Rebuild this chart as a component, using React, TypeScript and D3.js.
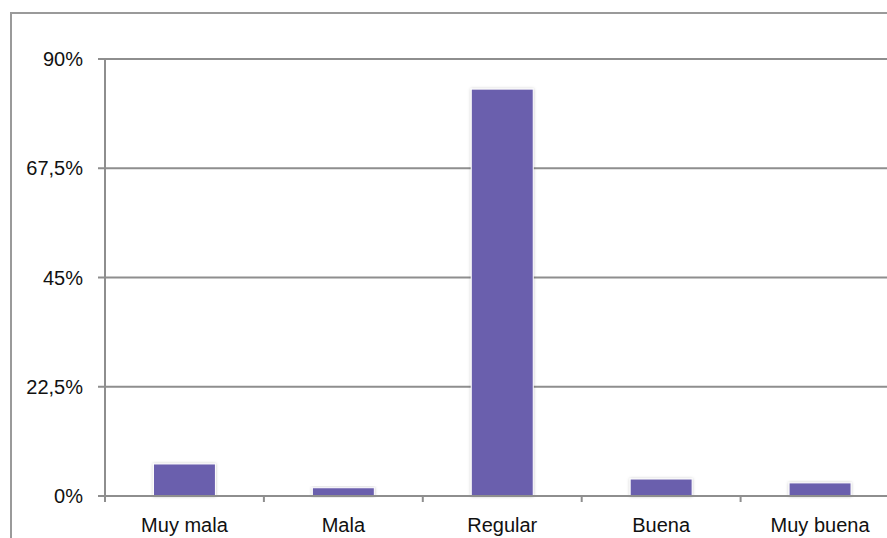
import React from "react";
import * as d3 from "d3";

const categories = ["Muy mala", "Mala", "Regular", "Buena", "Muy buena"];
const values = [6.6, 1.7, 83.8, 3.5, 2.7];
const yTicks = [0, 22.5, 45, 67.5, 90];
const yTickLabels = ["0%", "22,5%", "45%", "67,5%", "90%"];

export default function App() {
  const W = 887, H = 538;
  const left = 105, right = 899.5, top = 59, bottom = 496;
  const x = d3.scaleBand<string>().domain(categories).range([left, right]).padding(0);
  const y = d3.scaleLinear().domain([0, 90]).range([bottom, top]);
  const bw = x.bandwidth() * 0.39;
  const boundaries = d3.range(categories.length + 1).map((i) => left + i * x.step());
  const font = "'Liberation Sans', Helvetica, Arial, sans-serif";
  return (
    <svg width={W} height={H} style={{ position: "absolute", left: 0, top: 0 }}>
      <defs>
        <filter id="sh" x="-20%" y="-20%" width="140%" height="140%">
          <feDropShadow dx="0" dy="0" stdDeviation="1.6" floodColor="#000" floodOpacity="0.25" />
        </filter>
      </defs>
      <rect x={0} y={0} width={W} height={H} fill="#fff" />
      <rect x={11} y={13} width={1000} height={1000} fill="none" stroke="#9a9a9a" strokeWidth={2} />
      {yTicks.map((t, i) => (
        <g key={t}>
          {t > 0 && (
            <line x1={left} x2={W} y1={y(t)} y2={y(t)} stroke="#8e8e8e" strokeWidth={2} />
          )}
          <line x1={98} x2={left} y1={y(t)} y2={y(t)} stroke="#8e8e8e" strokeWidth={2} />
          <text x={83} y={y(t) + 7} textAnchor="end" fontFamily={font} fontSize={20} fill="#111">
            {yTickLabels[i]}
          </text>
        </g>
      ))}
      {categories.map((c, i) => (
        <rect
          key={c}
          x={(x(c) as number) + (x.bandwidth() - bw) / 2}
          y={y(values[i])}
          width={bw}
          height={bottom - y(values[i])}
          fill="#6b5fad"
          stroke="#ffffff"
          strokeWidth={1}
          filter="url(#sh)"
        />
      ))}
      <line x1={left} x2={left} y1={top} y2={bottom + 5} stroke="#8e8e8e" strokeWidth={2} />
      <line x1={left} x2={W} y1={bottom} y2={bottom} stroke="#8e8e8e" strokeWidth={2} />
      {boundaries.map((b, i) => (
        <line key={i} x1={b} x2={b} y1={bottom} y2={bottom + 6} stroke="#8e8e8e" strokeWidth={2} />
      ))}
      {categories.map((c) => (
        <text
          key={c}
          x={(x(c) as number) + x.bandwidth() / 2}
          y={531.5}
          textAnchor="middle"
          fontFamily={font}
          fontSize={20}
          fill="#111"
        >
          {c}
        </text>
      ))}
    </svg>
  );
}
